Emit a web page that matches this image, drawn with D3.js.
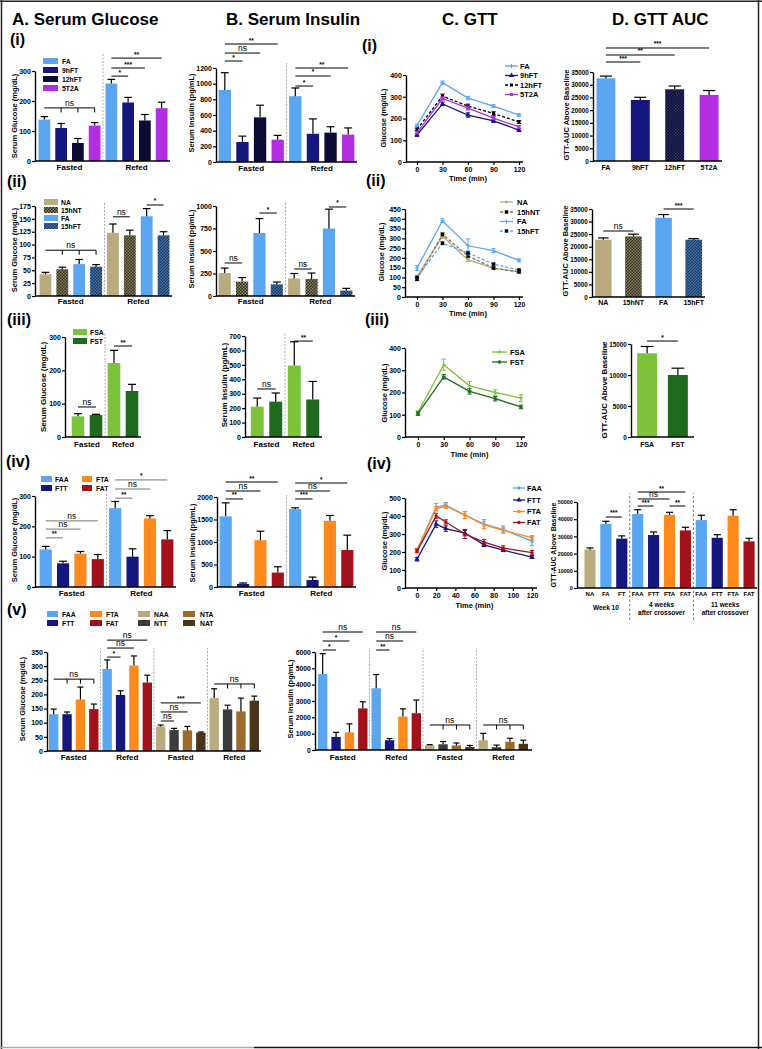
<!DOCTYPE html>
<html><head><meta charset="utf-8">
<script src="https://cdn.jsdelivr.net/npm/d3@7"></script>
<style>body{margin:0;background:#fff}svg{display:block}</style>
</head><body><svg id="chart" width="762" height="1049"></svg>
<script>
// ---------------- DATA ----------------
const fastRefed = ["Fasted","Refed"];
const fastRefed4 = ["Fasted","Refed","Fasted","Refed"];
const gttTimes = [0,30,60,90,120];
const gttTimesIV = [0,20,30,50,70,90,120];
const xTicksIV = [0,20,40,60,80,100,120];

// Row (i)
const grpI = ["FA","9hFT","12hFT","5T2A"];
const glucoseI = [[138,110,60,118],[258,195,135,176]];
const glucoseIErr = [[10,15,15,10],[14,17,20,20]];
const insulinI = [[920,255,570,285],[840,360,375,350]];
const insulinIErr = [[220,75,155,55],[105,190,75,85]];
const gttI = [[168,365,294,257,216],[124,267,216,189,147],[150,303,257,223,184],[135,292,248,202,161]];
const gttIErr = [[6,7,8,6,6],[6,8,10,7,7],[6,9,9,8,7],[6,8,9,7,7]];
const aucI = [32500,24000,28200,26000];
const aucIErr = [900,1050,1300,1700];

// Row (ii)
const grpII = ["NA","15hNT","FA","15hFT"];
const glucoseII = [[42,52,62,57],[123,118,155,118]];
const glucoseIIErr = [[4,4,9,4],[17,10,15,7]];
const insulinII = [[255,160,700,130],[195,190,750,60]];
const insulinIIErr = [[55,45,160,25],[55,65,215,25]];
const gttII = [[105,310,190,148,128],[90,320,210,148,128],[148,390,262,237,187],[100,275,225,168,138]];
const gttIIErr = [[6,10,8,6,5],[6,10,8,6,5],[12,10,35,10,8],[6,8,10,6,5]];
const aucII = [22800,24100,31500,22800];
const aucIIErr = [700,900,1300,400];

// Row (iii)
const grpIII = ["FSA","FST"];
const glucoseIII = [[62,66],[222,138]];
const glucoseIIIErr = [[8,2],[38,20]];
const insulinIII = [[210,245],[495,260]];
const insulinIIIErr = [[60,60],[165,125]];
const gttIII = [[110,325,230,200,175],[105,270,205,172,135]];
const gttIIIErr = [[8,25,20,12,15],[8,10,12,10,8]];
const aucIII = [13500,10000];
const aucIIIErr = [1100,1100];

// Row (iv)
const grpIV = ["FAA","FTT","FTA","FAT"];
const glucoseIV = [[124,78,110,92],[260,100,226,157]];
const glucoseIVErr = [[10,7,7,15],[22,26,9,29]];
const insulinIV = [[1570,70,1040,320],[1730,155,1470,822]];
const insulinIVErr = [[300,20,200,130],[30,65,120,330]];
const gttIV = [[210,450,460,405,355,325,260],[160,355,330,305,240,210,172],[210,440,455,405,350,320,280],[205,400,367,300,255,222,196]];
const gttIVErr = [[10,20,15,20,25,20,25],[10,18,15,15,10,8,8],[10,12,12,18,20,15,12],[10,15,12,25,15,12,12]];
const aucIVLabels = ["NA","FA","FT","FAA","FTT","FTA","FAT","FAA","FTT","FTA","FAT"];
const aucIV = [22300,37300,28700,43000,30800,42500,33500,39500,29200,42000,27100];
const aucIVErr = [1000,1500,1600,2500,1800,1500,1800,2800,1800,3500,1800];
const aucIVGroups = [["Week 10"],["4 weeks","after crossover"],["11 weeks","after crossover"]];

// Row (v)
const grpVF = ["FAA","FTT","FTA","FAT"];
const grpVN = ["NAA","NTT","NTA","NAT"];
const glucoseV = [[130,130,182,148],[290,198,302,242],[87,74,73,65],[187,147,140,178]];
const glucoseVErr = [[18,8,44,18],[32,15,34,26],[5,6,14,2],[33,15,47,16]];
const insulinV = [[4650,800,1080,2550],[3780,600,2050,2250],[300,350,280,180],[600,170,500,380]];
const insulinVErr = [[1250,280,520,400],[840,100,470,810],[30,170,150,100],[420,130,220,220]];

// significance annotations: [group, fromSeries, toSeries, label, level (data units), bracket]
const sigAI = [[0,0,3,"ns",177,true],[1,0,1,"*",283],[1,0,2,"***",310],[1,0,3,"**",343]];
const sigBI = [[0,0,1,"*",1289],[0,0,2,"ns",1391],[0,0,3,"**",1506],[1,0,1,"*",970],[1,0,2,"*",1098],[1,0,3,"**",1200]];
const sigDI = [[0,0,1,"***",38930],[0,0,2,"**",41690],[0,0,3,"***",44440]];
const sigAII = [[0,0,3,"ns",89,true],[1,0,1,"ns",154],[1,2,3,"*",177]];
const sigBII = [[0,0,1,"ns",367],[0,2,3,"*",922],[1,0,1,"ns",300],[1,2,3,"*",989]];
const sigDII = [[0,0,1,"ns",26250],[0,2,3,"***",35000]];
const sigAIII = [[0,0,1,"ns",90],[1,0,1,"**",273]];
const sigBIII = [[0,0,1,"ns",333],[1,0,1,"**",665]];
const sigDIII = [[0,0,1,"*",15480]];
const sigAIV = [[0,0,1,"**",162],[0,0,2,"ns",191],[0,0,3,"ns",218],[1,0,1,"**",293],[1,0,2,"ns",323],[1,0,3,"*",353]];
const sigBIV = [[0,0,1,"**",1956],[0,0,2,"ns",2133],[0,0,3,"**",2333],[1,0,1,"***",1956],[1,0,2,"ns",2133],[1,0,3,"*",2311]];
const sigDIV = [[0,1,2,"***",41280],[0,3,4,"***",47670],[0,5,6,"**",47670],[0,3,5,"ns",51740],[0,3,6,"**",55810]];
const sigAV = [[0,0,3,"ns",254,true],[1,0,1,"*",332],[1,0,2,"ns",364],[1,0,3,"ns",392],[2,0,1,"ns",106],[2,0,2,"ns",138],[2,0,3,"***",170],[3,0,3,"ns",237,true]];
const sigBV = [[0,0,1,"*",6122],[0,0,2,"*",6673],[0,0,3,"ns",7224],[1,0,1,"**",6122],[1,0,2,"ns",6673],[1,0,3,"ns",7224],[2,0,3,"ns",1531,true],[3,0,3,"ns",1531,true]];

// ---------------- STYLE ----------------
const FONT = '"Liberation Sans", Arial, Helvetica, sans-serif';
const COL = {FA:"#5aa6f0","9hFT":"#16167f","12hFT":"#0b0b36","5T2A":"#b22ee0",NA:"#b8ac7f","15hNT":"url(#pNT)","15hFT":"url(#pFT)",
  FSA:"#7cc23b",FST:"#1e6a1e",FAA:"#5aa6f0",FTT:"#16167f",FTA:"#ff8a1c",FAT:"#a3121a",FT:"#16167f",
  NAA:"#b8ac7f",NTT:"#3c3c3c",NTA:"#9c6b2b",NAT:"#4b3419"};

const svg = d3.select("#chart").attr("font-family", FONT);
const defs = svg.append("defs");
function checker(id,bg,fg,s){
  const p = defs.append("pattern").attr("id",id).attr("width",s*2).attr("height",s*2).attr("patternUnits","userSpaceOnUse");
  p.append("rect").attr("width",s*2).attr("height",s*2).attr("fill",bg);
  p.append("rect").attr("width",s).attr("height",s).attr("fill",fg);
  p.append("rect").attr("x",s).attr("y",s).attr("width",s).attr("height",s).attr("fill",fg);
}
checker("pNT","#2c2a1a","#8f8662",1.5);
checker("pFT","#1a3458","#4577ae",1.5);
checker("p12","#0a0a2e","#2d2d66",1.5);

function txt(g,x,y,s,size,weight,anchor){
  return g.append("text").attr("x",x).attr("y",y).text(s).attr("font-size",size)
    .attr("font-weight",weight||"bold").attr("text-anchor",anchor||"start").attr("fill","#000");
}
function hline(g,x1,x2,y,col,w){g.append("line").attr("x1",x1).attr("x2",x2).attr("y1",y).attr("y2",y).attr("stroke",col||"#000").attr("stroke-width",w||1.2);}
function vline(g,x,y1,y2,col,w,dash){g.append("line").attr("x1",x).attr("x2",x).attr("y1",y1).attr("y2",y2).attr("stroke",col||"#000").attr("stroke-width",w||1.2).attr("stroke-dasharray",dash||null);}

function yAxis(g,y,x,ticks,size){
  const a = g.append("g").attr("transform",`translate(${x},0)`)
    .call(d3.axisLeft(y).tickValues(ticks).tickSize(3).tickSizeOuter(0).tickPadding(1.2).tickFormat(d3.format("d")));
  a.select(".domain").attr("stroke","#000").attr("stroke-width",1.4);
  a.selectAll(".tick line").attr("stroke","#000").attr("stroke-width",1.2);
  a.selectAll(".tick text").attr("font-size",size||7).attr("font-weight","bold").attr("fill","#000").attr("font-family",FONT);
  return a;
}
function yLabel(g,axisG,x,y,s,size){
  const bb = axisG.node().getBBox();
  const left = bb.x + parseFloat(axisG.attr("transform").match(/translate\(([-\d.]+)/)[1]);
  const ax = Math.min(x, left - 2.2);
  g.append("text").attr("transform",`translate(${ax},${y}) rotate(-90)`).attr("text-anchor","middle")
    .attr("font-size",size||7.5).attr("font-weight","bold").text(s);
}

function barPanel(o){
  const g = svg.append("g");
  const y = d3.scaleLinear().domain([0,o.max]).range(o.yr);
  const gx = d3.scaleBand().domain(d3.range(o.groups.length)).range(o.gr);
  const sx = d3.scaleBand().domain(d3.range(o.series.length)).range([0,gx.bandwidth()])
    .paddingInner(o.pi ?? 0.3).paddingOuter(o.po ?? 0.15);
  const cx = (gi,si)=>gx(gi)+sx(si)+sx.bandwidth()/2;
  if(o.sep) for(let gi=1; gi<o.groups.length; gi++) vline(g,gx(gi),y(0),o.sepTop,"#9a9a9a",0.8,"2,1.5");
  if(o.sepAfter) o.sepAfter.forEach(i=>{
    const xs = gx(0)+sx(i+1)-sx.step()*sx.paddingInner()/2;
    vline(g,xs,o.sepBottom,o.sepTop,"#555",0.8,"2.5,2");
  });
  o.vals.forEach((row,gi)=>row.forEach((v,si)=>{
    g.append("rect").attr("x",gx(gi)+sx(si)).attr("y",y(v)).attr("width",sx.bandwidth())
      .attr("height",y(0)-y(v)).attr("fill",o.color(gi,si));
    const e = o.errs[gi][si], xc = cx(gi,si), cw = sx.bandwidth()*0.32;
    vline(g,xc,y(v),y(v+e),"#000",1.2);
    hline(g,xc-cw,xc+cw,y(v+e),"#000",1.2);
  }));
  const axG = yAxis(g,y,o.ax,d3.range(0,o.max+1,o.step),o.tickSize);
  hline(g,o.ax,o.axEnd,y(0),"#000",1.4);
  if(o.barLabels){
    o.series.forEach((s,si)=>txt(g,cx(0,si),y(0)+(o.lblDy||8.5),s,o.lblSize||7,"bold","middle"));
  } else {
    o.groups.forEach((s,gi)=>txt(g,gx(gi)+gx.bandwidth()/2,y(0)+(o.lblDy||8.5),s,o.catSize||8,"bold","middle"));
  }
  (o.sigs||[]).forEach(sg=>{
    const [gi,a,b,lab,lv,br] = sg;
    const x1 = cx(gi,a), x2 = cx(gi,b), yy = y(lv);
    hline(g,x1,x2,yy,o.sigColor||"#000",1);
    if(br) for(let k=a+1;k<=b;k++) vline(g,cx(gi,k),yy,yy+4.5,o.sigColor||"#000",1);
    const isNs = lab==="ns";
    txt(g,(x1+x2)/2,yy-(isNs?2:1.5),lab,isNs?(o.nsSize||8.5):6.5,isNs?"normal":"bold","middle");
  });
  yLabel(g,axG,o.ylx,o.yly,o.ylabel,o.ylSize);
  return {g,y,gx,sx,cx};
}

const SYM = {circle:d3.symbolCircle,square:d3.symbolSquare,triangle:d3.symbolTriangle,plus:d3.symbolCross};
function marker(g,x,y,st){
  if(st.m==="plus"){
    vline(g,x,y-2,y+2,st.mc||st.c,1); hline(g,x-2,x+2,y,st.mc||st.c,1); return;
  }
  g.append("path").attr("transform",`translate(${x},${y})`)
    .attr("d",d3.symbol().type(SYM[st.m]).size(st.s||10)()).attr("fill",st.mc||st.c);
}
function linePanel(o){
  const g = svg.append("g");
  const x = d3.scaleLinear().domain([0,120]).range(o.xr);
  const y = d3.scaleLinear().domain([0,o.max]).range(o.yr);
  const axG = yAxis(g,y,o.ax,d3.range(0,o.max+1,o.step));
  hline(g,o.ax,o.axEnd,y(0),"#000",1.4);
  const a = g.append("g").attr("transform",`translate(0,${y(0)})`)
    .call(d3.axisBottom(x).tickValues(o.xticks).tickSize(3).tickSizeOuter(0).tickPadding(2));
  a.select(".domain").remove();
  a.selectAll(".tick line").attr("stroke","#000").attr("stroke-width",1.2);
  a.selectAll(".tick text").attr("font-size",7).attr("font-weight","bold").attr("fill","#000").attr("font-family",FONT);
  txt(g,(o.xr[0]+o.xr[1])/2,y(0)+(o.xlDy||19),"Time (min)",7.5,"bold","middle");
  o.vals.forEach((vals,si)=>{
    const st = o.styles[si];
    const pts = o.times.map((t,i)=>[x(t),y(vals[i])]);
    g.append("path").attr("d",d3.line()(pts)).attr("fill","none").attr("stroke",st.c)
      .attr("stroke-width",1.3).attr("stroke-dasharray",st.dash||null);
    o.times.forEach((t,i)=>{
      const e = o.errs[si][i], xc = x(t);
      vline(g,xc,y(vals[i]-e),y(vals[i]+e),st.c,1);
      hline(g,xc-2.2,xc+2.2,y(vals[i]+e),st.c,1);
      hline(g,xc-2.2,xc+2.2,y(vals[i]-e),st.c,1);
    });
    pts.forEach(p=>marker(g,p[0],p[1],st));
    const ly = o.leg.y[si];
    g.append("line").attr("x1",o.leg.x1).attr("x2",o.leg.x2).attr("y1",ly).attr("y2",ly).attr("stroke",st.c)
      .attr("stroke-width",1.3).attr("stroke-dasharray",st.dash||null);
    marker(g,(o.leg.x1+o.leg.x2)/2,ly,st);
    txt(g,o.leg.tx,ly+2.7,o.series[si],o.leg.size||7.5,"bold");
  });
  yLabel(g,axG,o.ylx,o.yly,"Glucose (mg/dL)",7.5);
}
function swatchLegend(items,xs,ys,txs,size){
  const g = svg.append("g");
  items.forEach((s,i)=>{
    g.append("rect").attr("x",xs[i][0]).attr("y",ys[i]-3).attr("width",xs[i][1]-xs[i][0]).attr("height",6).attr("fill",COL[s]);
    txt(g,txs[i],ys[i]+2.5,s,size||6.8,"bold");
  });
}

// ---------------- FRAME & TITLES ----------------
const fr = svg.append("g");
vline(fr,1.5,0,1049,"#222",1.5); vline(fr,758.5,0,1049,"#222",1.5); hline(fr,0,762,1.2,"#222",1.5);
hline(fr,0,254,1047.5,"#aaa",1.5); hline(fr,254,762,1047.5,"#111",1.5);
txt(fr,12,25,"A. Serum Glucose",17);
txt(fr,226,25,"B. Serum Insulin",17);
txt(fr,442,25,"C. GTT",17);
txt(fr,612,25,"D. GTT AUC",17);
[["(i)",10,45],["(i)",362,51],["(ii)",7,187],["(ii)",366,186],["(iii)",7,325],["(iii)",365,325],
 ["(iv)",6,467],["(iv)",367,469],["(v)",7,615]].forEach(d=>txt(fr,d[1],d[2],d[0],16));

// ---------------- ROW (i) ----------------
barPanel({groups:fastRefed,series:grpI,vals:glucoseI,errs:glucoseIErr,color:(g,s)=>COL[grpI[s]],
  max:300,step:100,yr:[161,71],gr:[36,170],ax:35,axEnd:170,sep:true,sepTop:53,sigs:sigAI,
  ylabel:"Serum Glucose (mg/dL)",ylx:17,yly:116});
swatchLegend(grpI,[[43,58],[43,58],[43,58],[43,58]],[61,70,79,88],[62,62,62,62]);
barPanel({groups:fastRefed,series:grpI,vals:insulinI,errs:insulinIErr,color:(g,s)=>COL[grpI[s]],
  max:1200,step:200,yr:[162,68],gr:[216,357],ax:216,axEnd:357,sep:true,sepTop:63,sigs:sigBI,
  ylabel:"Serum Insulin (pg/mL)",ylx:197,yly:113});
linePanel({series:grpI,vals:gttI,errs:gttIErr,times:gttTimes,xticks:gttTimes,max:400,step:100,
  xr:[417,519],yr:[162,75],ax:406,axEnd:523,ylx:386,yly:118,xlDy:19,
  styles:[{c:COL.FA,m:"plus"},{c:COL["9hFT"],m:"triangle",s:12},{c:"#000",dash:"3,2",m:"square",s:9},{c:COL["5T2A"],m:"square",s:9}],
  leg:{x1:505,x2:518,tx:520,y:[66,75.5,85,94.5]}});
barPanel({groups:[""],series:grpI,vals:[aucI],errs:[aucIErr],color:(g,s)=>s===2?"url(#p12)":COL[grpI[s]],
  max:35000,step:5000,yr:[161,72],gr:[593,722],pi:0.45,po:0.1,ax:593,axEnd:722,barLabels:true,sigs:sigDI,tickSize:6.3,
  ylabel:"GTT-AUC Above Baseline",ylx:571,yly:115});

// ---------------- ROW (ii) ----------------
barPanel({groups:fastRefed,series:grpII,vals:glucoseII,errs:glucoseIIErr,color:(g,s)=>COL[grpII[s]],
  max:175,step:25,yr:[296,206],gr:[37,172],ax:35,axEnd:172,sep:true,sepTop:202,sigs:sigAII,lblDy:8,
  ylabel:"Serum Glucose (mg/dL)",ylx:19,yly:250});
swatchLegend(grpII,[[44,58],[44,58],[44,58],[44,58]],[202,210,218,226],[61,61,61,61]);
barPanel({groups:fastRefed,series:grpII,vals:insulinII,errs:insulinIIErr,color:(g,s)=>COL[grpII[s]],
  max:1000,step:250,yr:[296,206],gr:[216,355],ax:216,axEnd:355,sep:true,sepTop:202,sigs:sigBII,lblDy:8,
  ylabel:"Serum Insulin (pg/mL)",ylx:199,yly:249});
linePanel({series:grpII,vals:gttII,errs:gttIIErr,times:gttTimes,xticks:gttTimes,max:450,step:50,
  xr:[417,519],yr:[297,209],ax:405,axEnd:523,ylx:384,yly:252,xlDy:19,
  styles:[{c:COL.NA,m:"circle",s:8},{c:"#7d7356",dash:"3,2",m:"square",mc:"#000",s:12},{c:COL.FA,m:"plus"},{c:COL.FA,dash:"3,2",m:"square",mc:"#000",s:12}],
  leg:{x1:500,x2:513,tx:517,y:[202,212,221.5,231]}});
barPanel({groups:[""],series:grpII,vals:[aucII],errs:[aucIIErr],color:(g,s)=>COL[grpII[s]],
  max:35000,step:5000,yr:[297,209],gr:[592,705],pi:0.45,po:0.1,ax:592,axEnd:705,barLabels:true,sigs:sigDII,lblDy:8,tickSize:6.3,
  ylabel:"GTT-AUC Above Baseline",ylx:569,yly:251});

// ---------------- ROW (iii) ----------------
barPanel({groups:fastRefed,series:grpIII,vals:glucoseIII,errs:glucoseIIIErr,color:(g,s)=>COL[grpIII[s]],
  max:300,step:100,yr:[437,337],gr:[69,141],ax:65,axEnd:141,sep:true,sepTop:333,sigs:sigAIII,lblDy:10,
  ylabel:"Serum Glucose (mg/dL)",ylx:46,yly:387,ylSize:8});
swatchLegend(grpIII,[[73,87],[73,87]],[332,341],[90,90]);
barPanel({groups:fastRefed,series:grpIII,vals:insulinIII,errs:insulinIIIErr,color:(g,s)=>COL[grpIII[s]],
  max:700,step:100,yr:[437,336],gr:[248,322],ax:245,axEnd:322,sep:true,sepTop:333,sigs:sigBIII,lblDy:10,
  ylabel:"Serum Insulin (pg/mL)",ylx:227,yly:385,ylSize:8});
linePanel({series:grpIII,vals:gttIII,errs:gttIIIErr,times:gttTimes,xticks:gttTimes,max:400,step:100,
  xr:[418,521],yr:[437,348],ax:405,axEnd:525,ylx:389,yly:393,xlDy:20,
  styles:[{c:COL.FSA,m:"plus"},{c:COL.FST,m:"circle",s:10}],
  leg:{x1:492,x2:507,tx:510,y:[352,362]}});
barPanel({groups:[""],series:grpIII,vals:[aucIII],errs:[aucIIIErr],color:(g,s)=>COL[grpIII[s]],
  max:15000,step:5000,yr:[437,344],gr:[631,694],pi:0.35,po:0.2,ax:631,axEnd:694,barLabels:true,sigs:sigDIII,lblDy:10,tickSize:6.3,
  ylabel:"GTT-AUC Above Baseline",ylx:618,yly:390,ylSize:8});

// ---------------- ROW (iv) ----------------
barPanel({groups:fastRefed,series:grpIV,vals:glucoseIV,errs:glucoseIVErr,color:(g,s)=>COL[grpIV[s]],
  max:300,step:100,yr:[587,496],gr:[37,176],ax:35,axEnd:176,sep:true,sepTop:492,sigs:sigAIV,sigColor:"#777",lblDy:9,
  ylabel:"Serum Glucose (mg/dL)",ylx:18,yly:540});
swatchLegend(grpIV,[[41,52],[41,52],[82,92],[82,92]],[479,488,479,488],[55,55,96,96]);
barPanel({groups:fastRefed,series:grpIV,vals:insulinIV,errs:insulinIVErr,color:(g,s)=>COL[grpIV[s]],
  max:2000,step:500,yr:[587,497],gr:[217,356],ax:217,axEnd:356,sep:true,sepTop:495,sigs:sigBIV,lblDy:9,
  ylabel:"Serum Insulin (pg/mL)",ylx:199,yly:543});
linePanel({series:grpIV,vals:gttIV,errs:gttIVErr,times:gttTimesIV,xticks:xTicksIV,max:500,step:100,
  xr:[417,532],yr:[588,498],ax:405,axEnd:537,ylx:389,yly:541,xlDy:20,
  styles:[{c:COL.FAA,m:"circle",s:9},{c:COL.FTT,m:"triangle",s:12},{c:COL.FTA,m:"square",s:9},{c:COL.FAT,m:"circle",s:9}],
  leg:{x1:513,x2:525,tx:527,y:[488,500,511.5,522.5]}});
{
  const p = barPanel({groups:[""],series:aucIVLabels,vals:[aucIV],errs:[aucIVErr],color:(g,s)=>COL[aucIVLabels[s]],
    max:50000,step:10000,yr:[588,502],gr:[582,757],ax:577,axEnd:757,barLabels:true,lblSize:6,lblDy:8,sigs:sigDIV,tickSize:5.4,
    sepAfter:[2,6],sepTop:493,sepBottom:620,ylabel:"GTT-AUC Above Baseline",ylx:560,yly:545,ylSize:7});
  const centers = [[0,2],[3,6],[7,10]];
  centers.forEach((c,i)=>{
    const xm = (p.cx(0,c[0])+p.cx(0,c[1]))/2;
    aucIVGroups[i].forEach((line,k)=>txt(p.g,xm,(aucIVGroups[i].length===1?610:607)+k*7.5,line,6.5,"bold","middle"));
  });
}

// ---------------- ROW (v) ----------------
const colV = (g,s)=> g<2 ? COL[grpVF[s]] : COL[grpVN[s]];
barPanel({groups:fastRefed4,series:grpVF,vals:glucoseV,errs:glucoseVErr,color:colV,
  max:350,step:50,yr:[751,652],gr:[47,261],ax:47,axEnd:261,sep:true,sepTop:648,sigs:sigAV,lblDy:9,
  ylabel:"Serum Glucose (mg/dL)",ylx:25,yly:699});
swatchLegend(["FAA","FTT","FTA","FAT","NAA","NTT","NTA","NAT"],
  [[47,58],[47,58],[90,102],[90,102],[138,150],[138,150],[183,195],[183,195]],
  [614,623,614,623,614,623,614,623],[62,62,106,106,154,154,200,200]);
barPanel({groups:fastRefed4,series:grpVF,vals:insulinV,errs:insulinVErr,color:colV,
  max:6000,step:1000,yr:[750,652],gr:[316,530],ax:315,axEnd:532,sep:true,sepTop:648,sigs:sigBV,lblDy:10,tickSize:6.8,
  ylabel:"Serum Insulin (pg/mL)",ylx:293,yly:699});
</script></body></html>
